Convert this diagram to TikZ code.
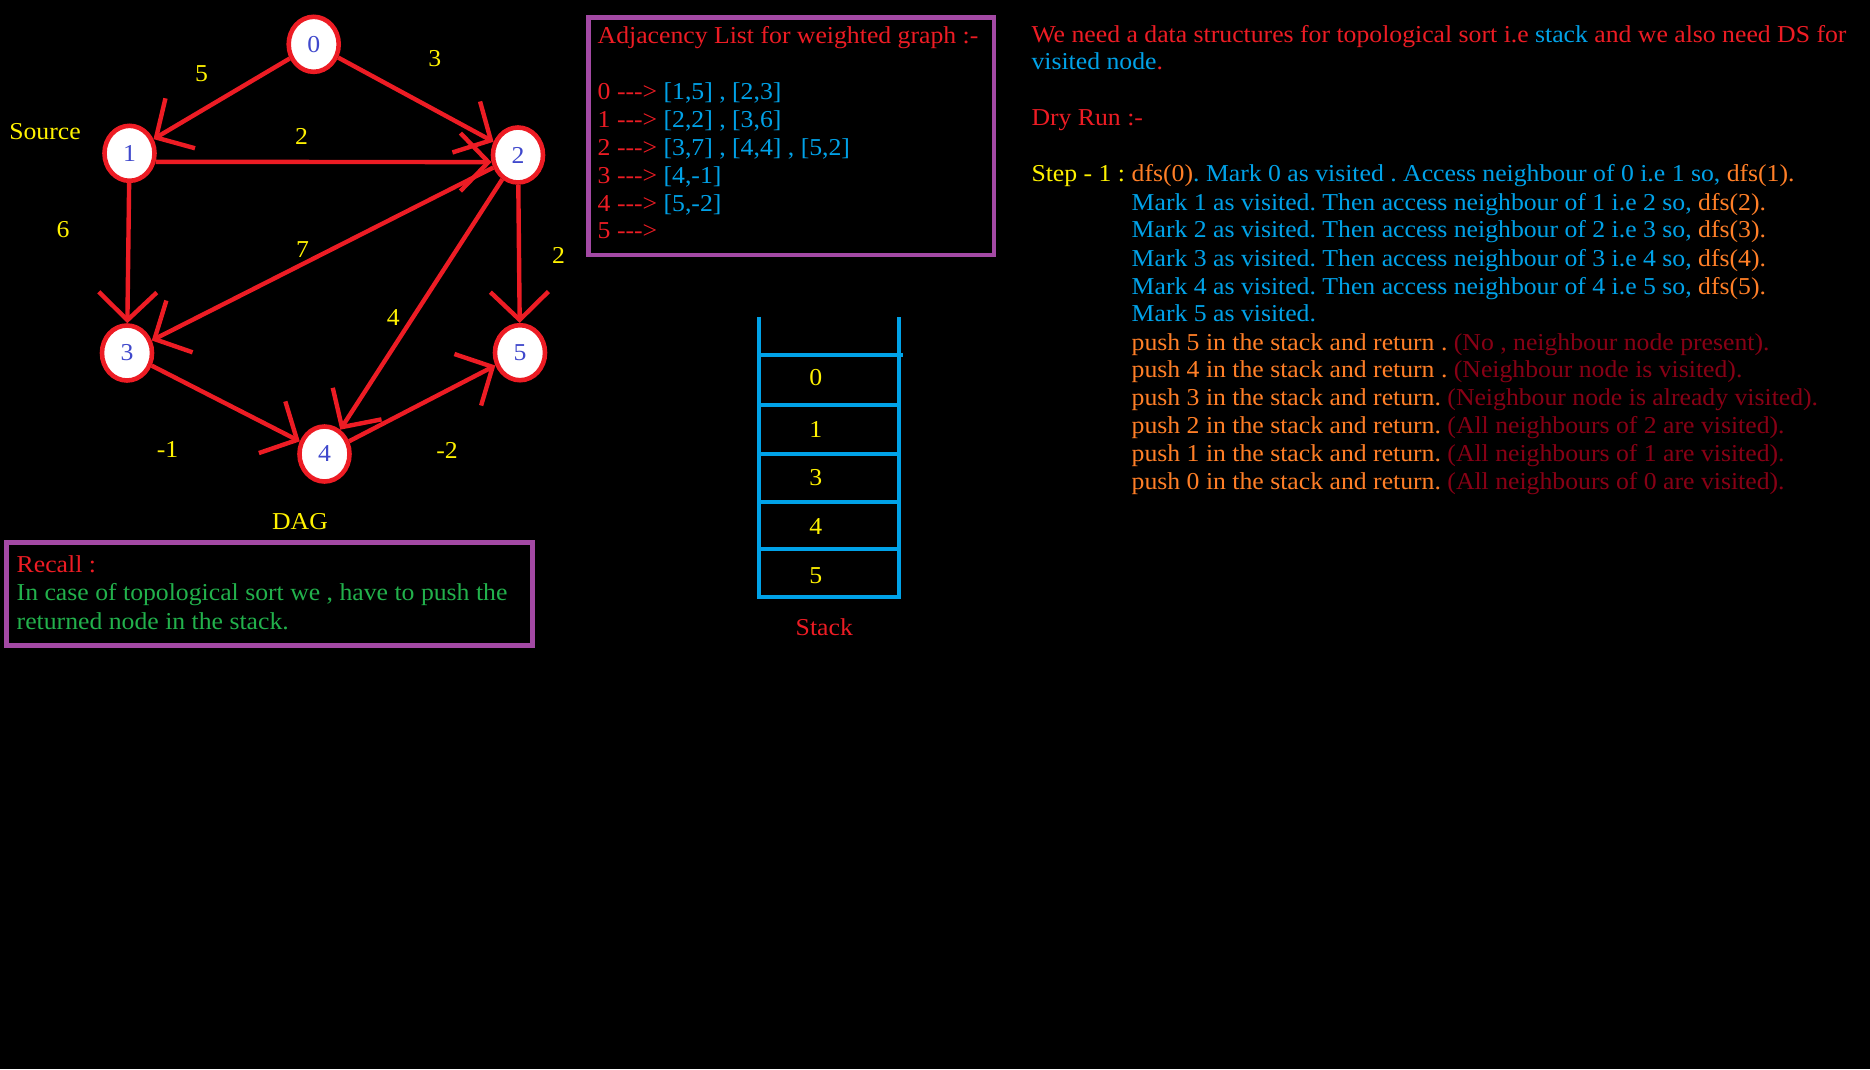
\documentclass[tikz,border=0pt]{standalone}
\usepackage{fontspec}
\setmainfont[FakeStretch=1.06]{Liberation Serif}
\usepackage{tikz}
\usetikzlibrary{shapes.geometric,arrows.meta}
\definecolor{pred}{HTML}{ED1C24}
\definecolor{pblue}{HTML}{00A2E8}
\definecolor{porange}{HTML}{FF7F27}
\definecolor{pdarkred}{HTML}{880015}
\definecolor{pyellow}{HTML}{FFF200}
\definecolor{pgreen}{HTML}{22B14C}
\definecolor{ppurple}{HTML}{A349A4}
\definecolor{pindigo}{HTML}{3F48CC}
\newcommand{\txtsize}{\fontsize{6.9}{8.3}\selectfont}
\newcommand{\arr}{-{}-{}->}
\frenchspacing

\begin{document}
\begin{tikzpicture}[x=0.01cm,y=-0.01cm,
  vertex/.style={ellipse, draw=pred, fill=white, line width=1.3pt, minimum width=0.5cm, minimum height=0.55cm, inner sep=0pt, text=pindigo, font=\txtsize},
  edge/.style={draw=pred, line width=1.25pt, -{Straight Barb[length=0.28cm,width=0.58cm]}},
  weight/.style={text=pyellow, font=\txtsize, inner sep=0pt},
  line/.style={anchor=base west, inner sep=0pt, font=\txtsize},
  frame/.style={draw=ppurple, line width=1.4pt},
  stackline/.style={draw=pblue, line width=1.15pt}]
\fill[black] (0,0) rectangle (1870,1069);
\useasboundingbox (0,0) rectangle (1870,1069);

% DAG
\node[vertex] (n0) at (313.7,44.3) {0};
\node[vertex] (n1) at (129.5,153.3) {1};
\node[vertex] (n2) at (518,155) {2};
\node[vertex] (n3) at (127,353) {3};
\node[vertex] (n4) at (324.5,454) {4};
\node[vertex] (n5) at (520,352.7) {5};

\draw[edge] (n0) -- (n1);
\draw[edge] (n0) -- (n2);
\draw[edge] (n1.-18) -- (n2.-165);
\draw[edge] (n1) -- (n3);
\draw[edge] (n2) -- (n3);
\draw[edge] (n2) -- (n4);
\draw[edge] (n2) -- (n5);
\draw[edge] (n3) -- (n4);
\draw[edge] (n4) -- (n5);

\node[weight] (w01) at (201.6,73.3) {5};
\node[weight] (w02) at (434.7,58.3) {3};
\node[weight] (w12) at (301.5,136) {2};
\node[weight] (w13) at (63,230) {6};
\node[weight] (w23) at (302.6,250) {7};
\node[weight] (w25) at (558.6,255) {2};
\node[weight] (w24) at (393.3,318) {4};
\node[weight] (w34) at (167.6,449) {-1};
\node[weight] (w45) at (447,450.7) {-2};
\node[weight] (source) at (45,131.7) {Source};
\node[weight] (dag) at (300,521.7) {DAG};

% adjacency list
\draw[frame] (588.5,17.5) rectangle (994,255);
\node[line, text=pred] (adjhead) at (597,43.3) {Adjacency List for weighted graph :-};
\node[line] (adj0) at (597,99) {\color{pred}0 \arr{} \color{pblue}[1,5] , [2,3]};
\node[line] (adj1) at (597,127) {\color{pred}1 \arr{} \color{pblue}[2,2] , [3,6]};
\node[line] (adj2) at (597,155) {\color{pred}2 \arr{} \color{pblue}[3,7] , [4,4] , [5,2]};
\node[line] (adj3) at (597,183) {\color{pred}3 \arr{} \color{pblue}[4,-1]};
\node[line] (adj4) at (597,211) {\color{pred}4 \arr{} \color{pblue}[5,-2]};
\node[line] (adj5) at (597,238.5) {\color{pred}5 \arr{}};

% recall
\draw[frame] (6.6,542.3) rectangle (532.3,645.7);
\node[line, text=pred] (recall) at (16,572.7) {Recall :};
\node[line, text=pgreen] (recall1) at (16,600.7) {In case of topological sort we , have to push the};
\node[line, text=pgreen] (recall2) at (16,629) {returned node in the stack.};

% stack
\draw[stackline] (759.3,316.7) -- (759.3,596.7) -- (899.3,596.7) -- (899.3,316.7);
\draw[stackline] (759.3,355) -- (903,355);
\draw[stackline] (759.3,405.3) -- (899.3,405.3);
\draw[stackline] (759.3,454.3) -- (899.3,454.3);
\draw[stackline] (759.3,502.3) -- (899.3,502.3);
\draw[stackline] (759.3,549.3) -- (899.3,549.3);
\node[weight] (s0) at (815.7,377.3) {0};
\node[weight] (s1) at (815.7,429) {1};
\node[weight] (s3) at (815.7,478) {3};
\node[weight] (s4) at (815.7,526.7) {4};
\node[weight] (s5) at (815.7,576) {5};
\node[weight, text=pred] (stack) at (824.3,626.7) {Stack};

% dry run
\node[line, text=pred] (need1) at (1030.8,42.3) {We need a data structures for topological sort i.e \textcolor{pblue}{stack} and we also need DS for};
\node[line, text=pblue] (need2) at (1030.8,69) {visited node\textcolor{pred}{.}};
\node[line, text=pred] (dry) at (1030.8,125.7) {Dry Run :-};
\node[line, text=pyellow] (step) at (1030.8,181.7) {Step - 1 :};
\node[line, text=pblue] (run0) at (1131,181.7) {\textcolor{porange}{dfs(0)}. Mark 0 as visited . Access neighbour of 0 i.e 1 so, \textcolor{porange}{dfs(1).}};
\node[line, text=pblue] (run1) at (1131,210) {Mark 1 as visited. Then access neighbour of 1 i.e 2 so, \textcolor{porange}{dfs(2).}};
\node[line, text=pblue] (run2) at (1131,237.7) {Mark 2 as visited. Then access neighbour of 2 i.e 3 so, \textcolor{porange}{dfs(3).}};
\node[line, text=pblue] (run3) at (1131,266) {Mark 3 as visited. Then access neighbour of 3 i.e 4 so, \textcolor{porange}{dfs(4).}};
\node[line, text=pblue] (run4) at (1131,294) {Mark 4 as visited. Then access neighbour of 4 i.e 5 so, \textcolor{porange}{dfs(5).}};
\node[line, text=pblue] (run5) at (1131,321.7) {Mark 5 as visited.};
\node[line, text=porange] (push5) at (1131,350) {push 5 in the stack and return . \textcolor{pdarkred}{(No , neighbour node present).}};
\node[line, text=porange] (push4) at (1131,377.7) {push 4 in the stack and return . \textcolor{pdarkred}{(Neighbour node is visited).}};
\node[line, text=porange] (push3) at (1131,405.7) {push 3 in the stack and return. \textcolor{pdarkred}{(Neighbour node is already visited).}};
\node[line, text=porange] (push2) at (1131,433.3) {push 2 in the stack and return. \textcolor{pdarkred}{(All neighbours of 2 are visited).}};
\node[line, text=porange] (push1) at (1131,461) {push 1 in the stack and return. \textcolor{pdarkred}{(All neighbours of 1 are visited).}};
\node[line, text=porange] (push0) at (1131,489) {push 0 in the stack and return. \textcolor{pdarkred}{(All neighbours of 0 are visited).}};
\end{tikzpicture}
\end{document}
